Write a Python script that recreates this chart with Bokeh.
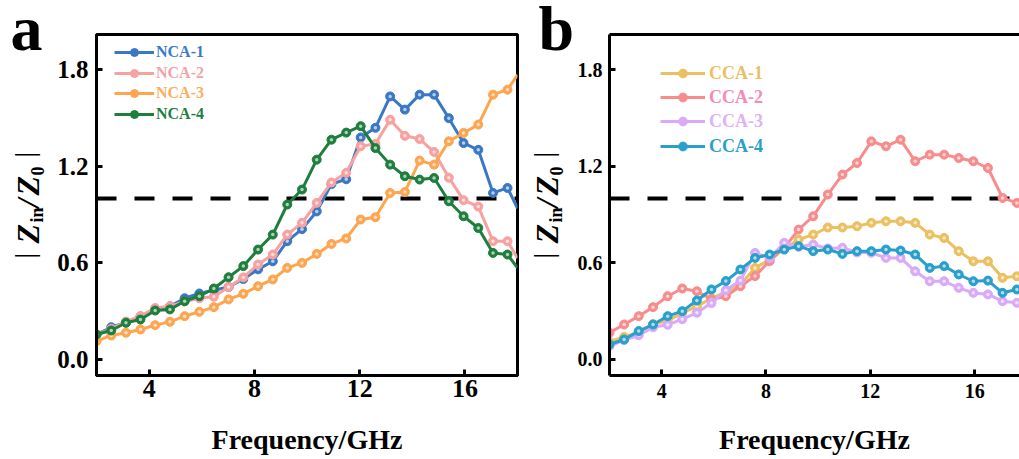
from math import pi
from bokeh.plotting import figure
from bokeh.layouts import row
from bokeh.core.properties import value
from bokeh.models import (Range1d, Span, Legend, LegendItem, LinearAxis,
                          SingleIntervalTicker, FixedTicker, PrintfTickFormatter)
from bokeh.embed import file_html
from bokeh.resources import INLINE

# ---------------- data ----------------
freq = [2.00, 2.56, 3.12, 3.67, 4.23, 4.79, 5.35, 5.91, 6.46, 7.02, 7.58, 8.14, 8.70,
        9.25, 9.81, 10.37, 10.93, 11.49, 12.04, 12.60, 13.16, 13.72, 14.28, 14.83,
        15.39, 15.95, 16.51, 17.07, 17.62]
freq_end = 18.0

nca_labels = ["NCA-1", "NCA-2", "NCA-3", "NCA-4"]
nca1 = [0.155, 0.20, 0.23, 0.265, 0.31, 0.33, 0.38, 0.41, 0.43, 0.45, 0.50, 0.56, 0.61,
        0.735, 0.81, 0.92, 1.09, 1.12, 1.38, 1.44, 1.635, 1.553, 1.646, 1.646, 1.50,
        1.345, 1.303, 1.035, 1.066, 0.94]
nca2 = [0.155, 0.19, 0.235, 0.27, 0.32, 0.33, 0.36, 0.38, 0.39, 0.45, 0.51, 0.59, 0.652,
        0.776, 0.849, 0.973, 1.10, 1.16, 1.325, 1.34, 1.49, 1.39, 1.37, 1.29, 1.13,
        0.99, 0.95, 0.735, 0.735, 0.63]
nca3 = [0.114, 0.149, 0.166, 0.186, 0.213, 0.234, 0.269, 0.296, 0.325, 0.373, 0.408,
        0.455, 0.497, 0.569, 0.60, 0.656, 0.718, 0.752, 0.87, 0.884, 1.035, 1.041,
        1.236, 1.211, 1.356, 1.408, 1.46, 1.646, 1.677, 1.77]
nca4 = [0.155, 0.18, 0.228, 0.248, 0.304, 0.311, 0.362, 0.393, 0.441, 0.511, 0.58,
        0.683, 0.776, 0.963, 1.056, 1.242, 1.366, 1.41, 1.45, 1.314, 1.211, 1.139,
        1.118, 1.128, 0.983, 0.89, 0.817, 0.662, 0.652, 0.57]

cca_labels = ["CCA-1", "CCA-2", "CCA-3", "CCA-4"]
cca1 = [0.11, 0.14, 0.17, 0.22, 0.24, 0.29, 0.33, 0.38, 0.42, 0.466, 0.569, 0.62, 0.69,
        0.745, 0.776, 0.82, 0.82, 0.828, 0.849, 0.859, 0.859, 0.849, 0.776, 0.755,
        0.673, 0.61, 0.61, 0.507, 0.517]
cca2 = [0.166, 0.217, 0.269, 0.325, 0.393, 0.441, 0.424, 0.373, 0.393, 0.455, 0.518,
        0.611, 0.694, 0.807, 0.89, 1.025, 1.149, 1.221, 1.356, 1.325, 1.366, 1.232,
        1.273, 1.273, 1.252, 1.232, 1.19, 1.004, 0.973]
cca3 = [0.083, 0.12, 0.15, 0.20, 0.215, 0.25, 0.29, 0.35, 0.43, 0.49, 0.662, 0.63, 0.725,
        0.70, 0.714, 0.69, 0.694, 0.665, 0.663, 0.631, 0.631, 0.548, 0.486, 0.486,
        0.445, 0.414, 0.404, 0.362, 0.352]
cca4 = [0.093, 0.124, 0.176, 0.217, 0.269, 0.30, 0.366, 0.435, 0.487, 0.559, 0.631,
        0.652, 0.683, 0.704, 0.673, 0.683, 0.656, 0.673, 0.673, 0.683, 0.677, 0.652,
        0.569, 0.58, 0.528, 0.486, 0.49, 0.414, 0.435]

matching_value = 1.0
y_ticks_interval = 0.6
x_ticks_interval = 4

nca_line_colors = ["#3B78C3", "#F7A1A1", "#FDA54F", "#1E7E3E"]
nca_text_colors = ["#3A7BC8", "#F4A3A3", "#FBAE5C", "#1F7F3F"]
cca_line_colors = ["#EAC060", "#F88C8C", "#D8AAF8", "#2A9FCB"]
cca_text_colors = ["#EBC065", "#F58AB5", "#DDB3F5", "#2AA0C8"]

SERIF = "Liberation Serif"
H = 459
TOP, BOTTOM = 34, 84
Y0, Y1 = -0.1, 2.02
MID = 0.3375  # (ascent - descent) / 2 of the serif face, in em


def make_fig(width, left, right, x_end, tick_fs_x, tick_fs_y, xl_standoff, xt_standoff,
             yt_standoff):
    p = figure(width=width, height=H, x_range=Range1d(2, x_end), y_range=Range1d(Y0, Y1),
               output_backend="svg", toolbar_location=None, title=None,
               min_border_left=left, min_border_right=right,
               min_border_top=TOP, min_border_bottom=BOTTOM)
    p.background_fill_color = "white"
    p.border_fill_color = "white"
    p.xgrid.grid_line_color = None
    p.ygrid.grid_line_color = None
    p.outline_line_color = "black"
    p.outline_line_width = 3
    p.outline_line_alpha = 1
    for ax in (p.xaxis[0], p.yaxis[0]):
        ax.major_tick_in = 6
        ax.major_tick_out = 0
        ax.minor_tick_line_color = None
        ax.major_tick_line_width = 3
        ax.major_tick_line_color = "black"
        ax.axis_line_width = 3
        ax.axis_line_color = "black"
        ax.major_label_text_font = SERIF
        ax.major_label_text_font_style = "bold"
        ax.major_label_text_color = "black"
    p.xaxis[0].ticker = SingleIntervalTicker(interval=x_ticks_interval, num_minor_ticks=0)
    p.yaxis[0].ticker = SingleIntervalTicker(interval=y_ticks_interval, num_minor_ticks=0)
    p.yaxis[0].formatter = PrintfTickFormatter(format="%.1f")
    p.xaxis[0].major_label_text_font_size = tick_fs_x
    p.yaxis[0].major_label_text_font_size = tick_fs_y
    p.xaxis[0].major_label_standoff = xt_standoff
    p.yaxis[0].major_label_standoff = yt_standoff
    p.xaxis[0].axis_label = "Frequency/GHz"
    p.xaxis[0].axis_label_text_font = SERIF
    p.xaxis[0].axis_label_text_font_style = "bold"
    p.xaxis[0].axis_label_text_font_size = "28px"
    p.xaxis[0].axis_label_text_color = "black"
    p.xaxis[0].axis_label_standoff = xl_standoff
    p.add_layout(Span(location=matching_value, dimension="width", line_color="black",
                      line_width=4, line_dash="20 18", level="underlay"))
    return p


def text_fig(w):
    f = figure(width=w, height=H, x_range=Range1d(0, w), y_range=Range1d(0, H),
               output_backend="svg", toolbar_location=None, title=None, min_border=0,
               min_border_left=0, min_border_right=0, min_border_top=0,
               min_border_bottom=0, x_axis_type=None, y_axis_type=None)
    f.outline_line_color = None
    f.grid.visible = False
    f.background_fill_color = "white"
    f.border_fill_color = "white"
    try:
        f.frame_align = False   # keep the full canvas as the frame inside the row
    except Exception:
        pass
    return f


def put_text(f, px, py, txt, fs_px, st, angle=0.0, align="left"):
    # (px, py): wanted baseline point in window pixels; anchor at the middle of the line
    if angle == 0.0:
        ax, ay = px, py - MID * fs_px
    else:
        ax, ay = px - MID * fs_px, py
    f.text(x=[ax], y=[H - ay], text=[txt], angle=angle, text_font=value(SERIF),
           text_font_size=value(f"{fs_px}px"), text_font_style=value(st),
           text_color="black", text_align=value(align), text_baseline=value("middle"))


def y_label(f, xb):
    # | Z_in / Z_0 |  written bottom-to-top; each piece anchored at its upper end
    pieces = [("|", xb - 5, 252.5, 28, "normal"),
              ("Z", xb, 223.5, 32, "bold italic"),
              ("in", xb + 5, 207, 18, "bold"),
              ("/", xb, 198, 32, "bold italic"),
              ("Z", xb, 175.5, 32, "bold italic"),
              ("0", xb + 5, 166, 18, "bold"),
              ("|", xb - 5, 151.5, 28, "normal")]
    for txt, px, py, fs, st in pieces:
        put_text(f, px, py, txt, fs, st, angle=pi / 2, align="right")


def draw_series(p, xs, ys, color, marker_n):
    r_line = p.line(xs, ys, line_color=color, line_width=3)
    r_pts = p.scatter(xs[:marker_n], ys[:marker_n], size=9, fill_color=color,
                      line_color=color, marker="circle")
    p.scatter(xs[:marker_n], ys[:marker_n], size=3.5, fill_color="white",
              fill_alpha=0.65, line_color=None, marker="circle")
    return [r_line, r_pts]


def add_legend(p, label, rends, color, vx, vy, gw, gh, fs, standoff):
    lg = Legend(items=[LegendItem(label=label, renderers=rends)], location=(vx, vy),
                orientation="vertical", padding=0, margin=0, spacing=0,
                glyph_width=gw, glyph_height=gh, label_height=gh, label_width=10,
                label_standoff=standoff, label_text_font=SERIF,
                label_text_font_style="bold", label_text_font_size=fs,
                label_text_color=color, background_fill_alpha=0, border_line_alpha=0)
    p.add_layout(lg)


# ---------------- panel a ----------------
LA_W = 54
la = text_fig(LA_W)
put_text(la, 10, 50, "a", 64, "bold")
y_label(la, 38)

PA_RIGHT = 520
PA_W = PA_RIGHT - LA_W
pa = make_fig(PA_W, 95 - LA_W, PA_RIGHT - 517, 18.0, "26px", "25px", 24, 4, 8)
xa = freq + [freq_end]
rows_a = [52, 72.5, 93, 113.5]
for lab, ys, lc, tc, cy in zip(nca_labels, [nca1, nca2, nca3, nca4],
                               nca_line_colors, nca_text_colors, rows_a):
    rends = draw_series(pa, xa, ys, lc, len(freq))
    add_legend(pa, lab, rends, tc, 18, 365 - cy, 40, 20, "16px", 2)

# ---------------- panel b ----------------
LB_X, LB_W = PA_RIGHT, 54
lb = text_fig(LB_W)
put_text(lb, 538 - LB_X, 50, "b", 64, "bold")
y_label(lb, 557 - LB_X)

PB_X = LB_X + LB_W
PB_W = 1019 - PB_X
XB_END = 17.72
pb = make_fig(PB_W, 606 - PB_X, 0, XB_END, "20px", "20px", 23, 8, 7)
pb.outline_line_color = None
top_axis = LinearAxis(ticker=FixedTicker(ticks=[]), axis_line_width=3, axis_line_color="black",
                      major_tick_line_color=None, minor_tick_line_color=None,
                      major_label_text_color=None)
pb.add_layout(top_axis, "above")
rows_b = [73, 97, 121, 146]
for lab, ys, lc, tc, cy in zip(cca_labels, [cca1, cca2, cca3, cca4],
                               cca_line_colors, cca_text_colors, rows_b):
    rends = draw_series(pb, freq, ys, lc, len(freq))
    add_legend(pb, lab, rends, tc, 51, 364 - cy, 45, 22, "18px", 4)

layout = row(la, pa, lb, pb, spacing=0)
open("out.html", "w").write(file_html(layout, INLINE))
